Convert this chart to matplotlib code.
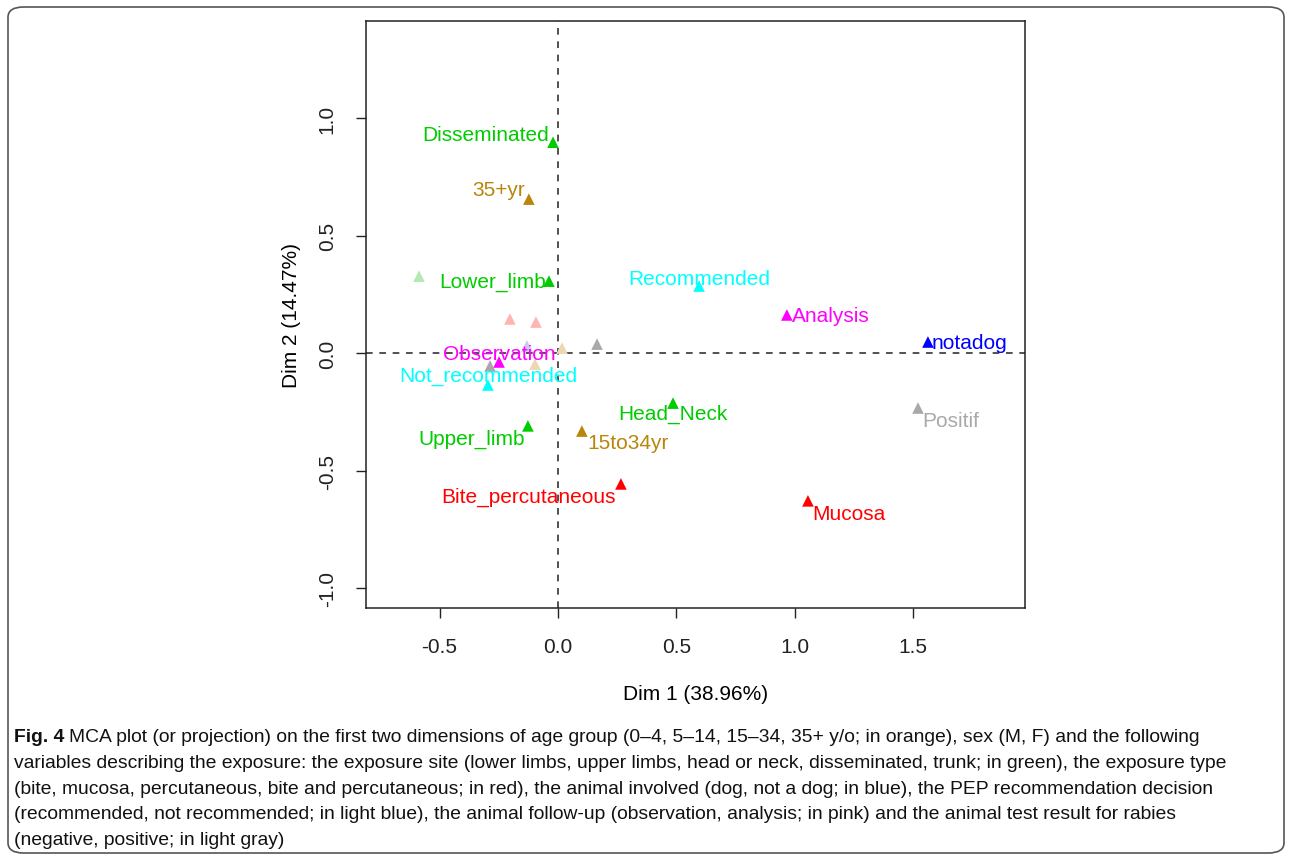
import matplotlib
matplotlib.use("Agg")
import matplotlib.pyplot as plt
from matplotlib.patches import FancyBboxPatch

plt.rcParams['font.family'] = ['Liberation Sans', 'DejaVu Sans']

# MCA category coordinates (Dim 1, Dim 2)
labels = ['Disseminated', '35+yr', 'Lower_limb', 'Recommended', 'Analysis',
          'notadog', 'Observation', 'Not_recommended', 'Head_Neck', 'Positif',
          'Upper_limb', '15to34yr', 'Bite_percutaneous', 'Mucosa']
dim1 = [-0.021, -0.123, -0.038, 0.596, 0.967, 1.563, -0.249, -0.296,
        0.486, 1.521, -0.127, 0.101, 0.266, 1.056]
dim2 = [0.897, 0.655, 0.306, 0.285, 0.162, 0.047, -0.038, -0.136,
        -0.213, -0.234, -0.310, -0.332, -0.557, -0.629]
colors = ['#00CC00', '#B8860B', '#00CC00', '#00FFFF', '#FF00FF',
          '#0000FF', '#FF00FF', '#00FFFF', '#00CC00', '#A9A9A9',
          '#00CC00', '#B8860B', '#FF0000', '#FF0000']

# faint (unlabelled) categories
faint_x = [-0.587, -0.203, -0.093, 0.165, 0.017, -0.131, -0.287, -0.097]
faint_y = [0.327, 0.145, 0.132, 0.038, 0.021, 0.030, -0.055, -0.047]
faint_c = ['#B4E8B4', '#FFB4B4', '#FFB4B4', '#AAAAAA', '#EBD7B0',
           '#C8C8F0', '#A8A8A8', '#EBD7B0']

# label placement: (dx px, dy px, ha)
place = {
    'Disseminated': (-4, 8, 'right'), '35+yr': (-4, 10, 'right'),
    'Lower_limb': (-3, 0, 'right'), 'Recommended': (0, 8, 'center'),
    'Analysis': (5, -1, 'left'), 'notadog': (4, -1, 'left'),
    'Observation': (0, 8, 'center'), 'Not_recommended': (0, 10, 'center'),
    'Head_Neck': (0, -10, 'center'), 'Positif': (4, -12, 'left'),
    'Upper_limb': (-3, -12, 'right'), '15to34yr': (5, -11, 'left'),
    'Bite_percutaneous': (-5, -12, 'right'), 'Mucosa': (4, -13, 'left'),
}

fig = plt.figure(figsize=(12.92, 8.62), dpi=100)
ax = fig.add_axes([366 / 1292, 1 - 609 / 862, 659 / 1292, 587 / 862])

ax.axhline(0, color='#333333', ls=(0, (4, 4)), lw=1.2)
ax.axvline(0, color='#333333', ls=(0, (4, 4)), lw=1.2)

ax.scatter(faint_x, faint_y, marker='^', s=70, c=faint_c, linewidths=0, zorder=2)
ax.scatter(dim1, dim2, marker='^', s=70, c=colors, linewidths=0, zorder=3)

for lab, x, y, c in zip(labels, dim1, dim2, colors):
    dx, dy, ha = place[lab]
    ax.annotate(lab, (x, y), xytext=(dx * 0.72, dy * 0.72), textcoords='offset points',
                ha=ha, va='center', color=c, fontsize=15, zorder=4)

ax.set_xlim(-0.811, 1.973)
ax.set_ylim(-1.085, 1.413)
ax.set_xticks([-0.5, 0.0, 0.5, 1.0, 1.5])
ax.set_yticks([-1.0, -0.5, 0.0, 0.5, 1.0])
ax.set_xticklabels(['-0.5', '0.0', '0.5', '1.0', '1.5'])
ax.set_yticklabels(['-1.0', '-0.5', '0.0', '0.5', '1.0'], rotation=90, va='center')
ax.tick_params(labelsize=15, length=7, width=1, pad=14, colors='#222222')
for s in ax.spines.values():
    s.set_linewidth(1.1)
    s.set_color('#222222')
ax.set_xlabel('Dim 1 (38.96%)', fontsize=15, labelpad=20)
ax.set_ylabel('Dim 2 (14.47%)', fontsize=15, labelpad=12)

# outer frame
frame = FancyBboxPatch((8 / 1292, 8 / 862), 1276 / 1292, 846 / 862,
                       boxstyle='round,pad=0,rounding_size=0.012',
                       transform=fig.transFigure, fill=False,
                       edgecolor='#555555', lw=1.2)
fig.patches.append(frame)

# caption
cap_font = ['Liberation Sans', 'DejaVu Sans']
cap_lines = [
    'MCA plot (or projection) on the first two dimensions of age group (0\u20134, 5\u201314, 15\u201334, 35+ y/o; in orange), sex (M, F) and the following',
    'variables describing the exposure: the exposure site (lower limbs, upper limbs, head or neck, disseminated, trunk; in green), the exposure type',
    '(bite, mucosa, percutaneous, bite and percutaneous; in red), the animal involved (dog, not a dog; in blue), the PEP recommendation decision',
    '(recommended, not recommended; in light blue), the animal follow-up (observation, analysis; in pink) and the animal test result for rabies',
    '(negative, positive; in light gray)',
]
fs = 13.9
x0 = 14 / 1292
y_first = 1 - 737 / 862
step = 26 / 862
bold = fig.text(x0, y_first, 'Fig. 4', fontsize=fs, fontweight='bold',
                family=cap_font, va='center', color='#111111')
r = fig.canvas.get_renderer()
bb = bold.get_window_extent(r)
fig.text((bb.x1 + 5) / 1292, y_first, cap_lines[0], fontsize=fs, family=cap_font,
         va='center', color='#111111')
for i, line in enumerate(cap_lines[1:], start=1):
    fig.text(x0, y_first - i * step, line, fontsize=fs, family=cap_font,
             va='center', color='#111111')

fig.savefig('out.png', dpi=100)
